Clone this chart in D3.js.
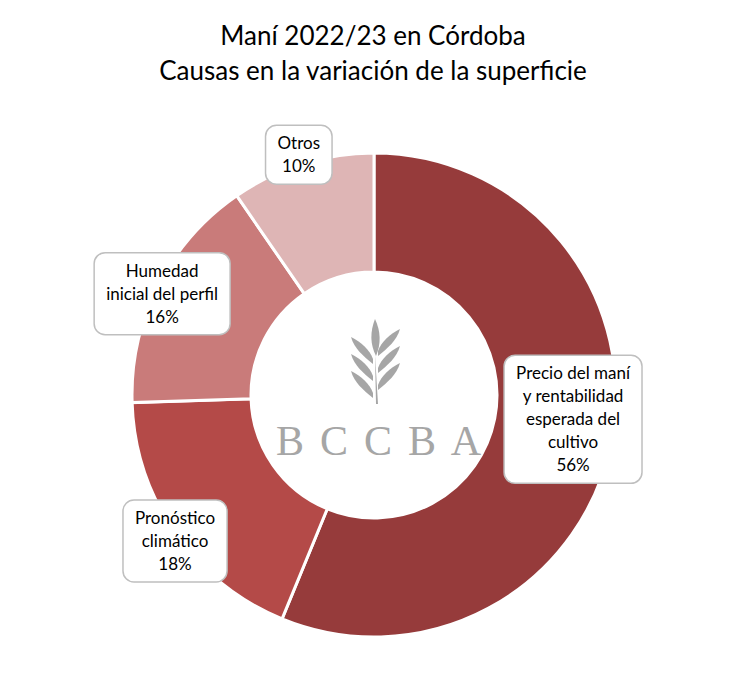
<!DOCTYPE html>
<html>
<head>
<meta charset="utf-8">
<script src="https://cdn.jsdelivr.net/npm/d3@7"></script>
<style>
  body { margin: 0; background: #fff; }
  svg text { font-family: Lato, "Open Sans", sans-serif; }
</style>
</head>
<body>
<div id="chart"></div>
<script>
// Maní 2022/23 - causas de variación de superficie
const categories = ["Precio del maní y rentabilidad esperada del cultivo", "Pronóstico climático", "Humedad inicial del perfil", "Otros"];
const labelLines = [
    ["Precio del maní", "y rentabilidad", "esperada del", "cultivo"],
    ["Pronóstico", "climático"],
    ["Humedad", "inicial del perfil"],
    ["Otros"]
];
const shares = [56.2, 18.3, 15.9, 9.6];
const colors = ["#963B3B", "#B44A48", "#C97B7A", "#DEB5B5"];
const titleLines = ["Maní 2022/23 en Córdoba", "Causas en la variación de la superficie"];

(function () {
    const width = 746, height = 699;
    const cx = 374, cy = 395;
    const outerR = 242, innerR = 123;

    const svg = d3.select("#chart").append("svg")
        .attr("width", width)
        .attr("height", height);

    // title
    svg.append("g").selectAll("text")
        .data(titleLines)
        .enter().append("text")
        .attr("x", width / 2)
        .attr("y", (d, i) => 45 + i * 35)
        .attr("text-anchor", "middle")
        .attr("font-size", "26px")
        .attr("fill", "#000")
        .text(d => d);

    const g = svg.append("g").attr("transform", `translate(${cx},${cy})`);

    const pie = d3.pie().sort(null).value(d => d);
    const arcs = pie(shares);
    const arc = d3.arc().innerRadius(innerR).outerRadius(outerR);

    g.selectAll("path.slice")
        .data(arcs)
        .enter().append("path")
        .attr("class", "slice")
        .attr("d", arc)
        .attr("fill", (d, i) => colors[i])
        .attr("stroke", "#fff")
        .attr("stroke-width", 3);

    // logo in the hole
    const logo = g.append("g").attr("fill", "#A6A6A6");
    const leaf = "M0,0 C3,-9 12,-17 22,-22 C19,-11 10,-3 0,5 Z";
    logo.append("path").attr("d", "M1,-76 C7,-63 7,-51 2,-39 C-4,-51 -4,-63 1,-76 Z");
    [-46, -29, -12].forEach(function (y) {
        logo.append("path").attr("d", leaf).attr("transform", `translate(4,${y + 2})`);
        logo.append("path").attr("d", leaf).attr("transform", `translate(-1,${y + 10}) scale(-1,1)`);
    });
    logo.append("path").attr("d", "M1,-40 L4,9 L2,9 Z");
    const letters = ["B", "C", "C", "B", "A"];
    logo.selectAll("text")
        .data(letters)
        .enter().append("text")
        .attr("x", (d, i) => -84 + i * 44)
        .attr("y", 60)
        .attr("text-anchor", "middle")
        .style("font-family", "'Liberation Serif', 'DejaVu Serif', serif")
        .attr("font-size", "42px")
        .text(d => d);

    // data labels
    const nudge = [[20, -11], [-49, 42], [-49, -19], [-21, -66]];
    const labelArc = d3.arc().innerRadius((innerR + outerR) / 2).outerRadius((innerR + outerR) / 2);
    const lineH = 23;

    arcs.forEach(function (a, i) {
        const c = labelArc.centroid(a);
        const lines = labelLines[i].concat([Math.round(a.value) + "%"]);
        const lg = g.append("g")
            .attr("transform", `translate(${c[0] + nudge[i][0]},${c[1] + nudge[i][1]})`);
        const box = lg.append("rect");
        const txt = lg.selectAll("text")
            .data(lines)
            .enter().append("text")
            .attr("x", 0)
            .attr("y", (d, j) => (j - (lines.length - 1) / 2) * lineH)
            .attr("dy", "0.35em")
            .attr("text-anchor", "middle")
            .attr("font-size", "17px")
            .attr("fill", "#000")
            .text(d => d);
        let w = 0;
        txt.each(function () { w = Math.max(w, this.getComputedTextLength()); });
        const bw = w + 24, bh = lines.length * lineH + 13;
        box.attr("x", -bw / 2).attr("y", -bh / 2)
            .attr("width", bw).attr("height", bh)
            .attr("rx", 11).attr("ry", 11)
            .attr("fill", "#fff")
            .attr("stroke", "#BFBFBF")
            .attr("stroke-width", 1.5);
    });
})();
</script>
</body>
</html>
